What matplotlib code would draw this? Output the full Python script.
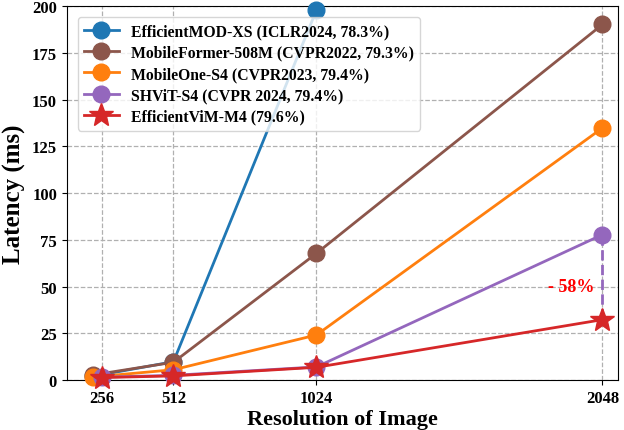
import matplotlib
matplotlib.use("Agg")
import matplotlib.pyplot as plt

plt.rcParams['font.family'] = ['Liberation Serif', 'DejaVu Serif']
plt.rcParams['font.weight'] = 'bold'

# Latency (ms) per input resolution
effmod_res = [224, 512, 1024]
effmod_lat = [2.0, 9.8, 198.0]

mobileformer_res = [224, 512, 1024, 2048]
mobileformer_lat = [2.7, 9.5, 67.8, 190.3]

mobileone_res = [224, 512, 1024, 2048]
mobileone_lat = [1.6, 5.5, 24.1, 134.9]

shvit_res = [256, 512, 1024, 2048]
shvit_lat = [1.5, 2.5, 7.0, 77.8]

effvim_res = [256, 512, 1024, 2048]
effvim_lat = [1.3, 2.2, 6.8, 32.3]

labels = [
    "EfficientMOD-XS (ICLR2024, 78.3%)",
    "MobileFormer-508M (CVPR2022, 79.3%)",
    "MobileOne-S4 (CVPR2023, 79.4%)",
    "SHViT-S4 (CVPR 2024, 79.4%)",
    "EfficientViM-M4 (79.6%)",
]
xticks = [256, 512, 1024, 2048]
yticks = [0, 25, 50, 75, 100, 125, 150, 175, 200]

fig = plt.figure(figsize=(6.24, 4.31), dpi=100)
ax = fig.add_axes([0.107, 0.116, 0.884, 0.867])

ax.plot(effmod_res, effmod_lat, '-o', color='#1f77b4', lw=2, ms=12, label=labels[0], clip_on=False, zorder=3)
ax.plot(mobileformer_res, mobileformer_lat, '-o', color='#8c564b', lw=2, ms=12, label=labels[1], clip_on=False, zorder=3)
ax.plot(mobileone_res, mobileone_lat, '-o', color='#ff7f0e', lw=2, ms=12, label=labels[2], clip_on=False, zorder=3)
ax.plot(shvit_res, shvit_lat, '-o', color='#9467bd', lw=2, ms=12, label=labels[3], clip_on=False, zorder=3)
ax.plot(effvim_res, effvim_lat, '-*', color='#d62728', lw=2, ms=18, label=labels[4], clip_on=False, zorder=4)

# Gap between SHViT and EfficientViM at the largest resolution
ax.plot([shvit_res[-1], effvim_res[-1]], [shvit_lat[-1], effvim_lat[-1]],
        '--', color='#9467bd', lw=2, zorder=2)
reduction = (1 - effvim_lat[-1] / shvit_lat[-1]) * 100
ax.text(effvim_res[-1] - 28, 50,
        f"- {reduction:.0f}%", color='red', fontsize=13, fontweight='bold',
        ha='right', va='center')

ax.set_xlim(130, 2105)
ax.set_ylim(0, 200)
ax.set_xticks(xticks)
ax.set_xticklabels([str(t) for t in xticks])
ax.set_yticks(yticks)
ax.tick_params(labelsize=12)
for lab in ax.get_xticklabels() + ax.get_yticklabels():
    lab.set_fontweight('bold')

ax.grid(True, linestyle='--', color='#b0b0b0', lw=0.9)
ax.set_axisbelow(True)

ax.set_xlabel("Resolution of Image", fontsize=16, fontweight='bold', labelpad=2)
ax.set_ylabel("Latency (ms)", fontsize=18, fontweight='bold')

leg = ax.legend(loc='upper left', prop={'weight': 'bold', 'size': 11.3},
                handlelength=2.2, borderaxespad=0.7, labelspacing=0.33,
                fancybox=True, framealpha=0.8)

fig.savefig("out.png", dpi=100)
